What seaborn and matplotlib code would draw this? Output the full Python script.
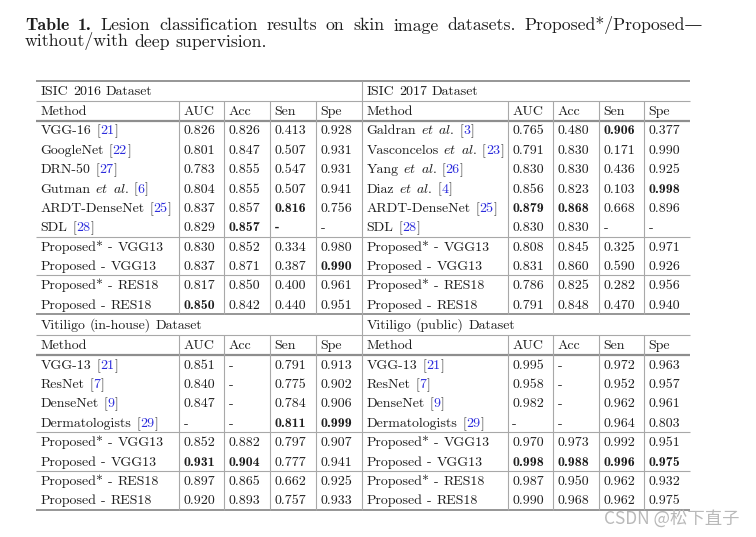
import numpy as np
import pandas as pd
import matplotlib
matplotlib.use("Agg")
import matplotlib.pyplot as plt
import seaborn as sns

# ------------------------------------------------------------------ data
title_bold = ["Table", "1."]
title_line1 = "Lesion classification results on skin image datasets. Proposed*/Proposed\u2014"
title_line2 = "without/with deep supervision."
watermark = "CSDN @松下直子"

columns = ["Method", "AUC", "Acc", "Sen", "Spe"]

isic2016_title = "ISIC 2016 Dataset"
isic2016_methods = ["VGG-16", "GoogleNet", "DRN-50", "Gutman", "ARDT-DenseNet", "SDL",
                    "Proposed* - VGG13", "Proposed - VGG13", "Proposed* - RES18", "Proposed - RES18"]
isic2016_etal = [False, False, False, True, False, False, False, False, False, False]
isic2016_refs = ["21", "22", "27", "6", "25", "28", "", "", "", ""]
isic2016_auc = [0.826, 0.801, 0.783, 0.804, 0.837, 0.829, 0.830, 0.837, 0.817, 0.850]
isic2016_acc = [0.826, 0.847, 0.855, 0.855, 0.857, 0.857, 0.852, 0.871, 0.850, 0.842]
isic2016_sen = [0.413, 0.507, 0.547, 0.507, 0.816, np.nan, 0.334, 0.387, 0.400, 0.440]
isic2016_spe = [0.928, 0.931, 0.931, 0.941, 0.756, np.nan, 0.980, 0.990, 0.961, 0.951]
isic2016_bold = [(4, "Sen"), (5, "Acc"), (5, "Sen"), (7, "Spe"), (9, "AUC")]
isic2016_groups = [6, 2, 2]

isic2017_title = "ISIC 2017 Dataset"
isic2017_methods = ["Galdran", "Vasconcelos", "Yang", "Diaz", "ARDT-DenseNet", "SDL",
                    "Proposed* - VGG13", "Proposed - VGG13", "Proposed* - RES18", "Proposed - RES18"]
isic2017_etal = [True, True, True, True, False, False, False, False, False, False]
isic2017_refs = ["3", "23", "26", "4", "25", "28", "", "", "", ""]
isic2017_auc = [0.765, 0.791, 0.830, 0.856, 0.879, 0.830, 0.808, 0.831, 0.786, 0.791]
isic2017_acc = [0.480, 0.830, 0.830, 0.823, 0.868, 0.830, 0.845, 0.860, 0.825, 0.848]
isic2017_sen = [0.906, 0.171, 0.436, 0.103, 0.668, np.nan, 0.325, 0.590, 0.282, 0.470]
isic2017_spe = [0.377, 0.990, 0.925, 0.998, 0.896, np.nan, 0.971, 0.926, 0.956, 0.940]
isic2017_bold = [(0, "Sen"), (3, "Spe"), (4, "AUC"), (4, "Acc")]
isic2017_groups = [6, 2, 2]

vit_in_title = "Vitiligo (in-house) Dataset"
vit_in_methods = ["VGG-13", "ResNet", "DenseNet", "Dermatologists",
                  "Proposed* - VGG13", "Proposed - VGG13", "Proposed* - RES18", "Proposed - RES18"]
vit_in_etal = [False] * 8
vit_in_refs = ["21", "7", "9", "29", "", "", "", ""]
vit_in_auc = [0.851, 0.840, 0.847, np.nan, 0.852, 0.931, 0.897, 0.920]
vit_in_acc = [np.nan, np.nan, np.nan, np.nan, 0.882, 0.904, 0.865, 0.893]
vit_in_sen = [0.791, 0.775, 0.784, 0.811, 0.797, 0.777, 0.662, 0.757]
vit_in_spe = [0.913, 0.902, 0.906, 0.999, 0.907, 0.941, 0.925, 0.933]
vit_in_bold = [(3, "Sen"), (3, "Spe"), (5, "AUC"), (5, "Acc")]
vit_in_groups = [4, 2, 2]

vit_pub_title = "Vitiligo (public) Dataset"
vit_pub_methods = ["VGG-13", "ResNet", "DenseNet", "Dermatologists",
                   "Proposed* - VGG13", "Proposed - VGG13", "Proposed* - RES18", "Proposed - RES18"]
vit_pub_etal = [False] * 8
vit_pub_refs = ["21", "7", "9", "29", "", "", "", ""]
vit_pub_auc = [0.995, 0.958, 0.982, np.nan, 0.970, 0.998, 0.987, 0.990]
vit_pub_acc = [np.nan, np.nan, np.nan, np.nan, 0.973, 0.988, 0.950, 0.968]
vit_pub_sen = [0.972, 0.952, 0.962, 0.964, 0.992, 0.996, 0.962, 0.962]
vit_pub_spe = [0.963, 0.957, 0.961, 0.803, 0.951, 0.975, 0.932, 0.975]
vit_pub_bold = [(5, "AUC"), (5, "Acc"), (5, "Sen"), (5, "Spe")]
vit_pub_groups = [4, 2, 2]


def make_df(methods, etal, refs, auc, acc, sen, spe):
    return pd.DataFrame({"Method": methods, "etal": etal, "ref": refs,
                         "AUC": auc, "Acc": acc, "Sen": sen, "Spe": spe})


tables = [
    (isic2016_title, make_df(isic2016_methods, isic2016_etal, isic2016_refs, isic2016_auc,
                             isic2016_acc, isic2016_sen, isic2016_spe), isic2016_bold, isic2016_groups),
    (isic2017_title, make_df(isic2017_methods, isic2017_etal, isic2017_refs, isic2017_auc,
                             isic2017_acc, isic2017_sen, isic2017_spe), isic2017_bold, isic2017_groups),
    (vit_in_title, make_df(vit_in_methods, vit_in_etal, vit_in_refs, vit_in_auc,
                           vit_in_acc, vit_in_sen, vit_in_spe), vit_in_bold, vit_in_groups),
    (vit_pub_title, make_df(vit_pub_methods, vit_pub_etal, vit_pub_refs, vit_pub_auc,
                            vit_pub_acc, vit_pub_sen, vit_pub_spe), vit_pub_bold, vit_pub_groups),
]

# ------------------------------------------------------------------ style
sns.set_theme(style="white")
plt.rcParams["mathtext.fontset"] = "cm"
plt.rcParams["font.family"] = ["cmr10", "DejaVu Serif"]
plt.rcParams["axes.unicode_minus"] = False

TXT = "#1e1e1e"
BLUE = "#2b2bdc"
GRID = "#a8a8a8"
GRID_DARK = "#8e8e8e"
TSIZE = 10.0
HSIZE = 12.8
PX = 100 / 72.0

fig = plt.figure(figsize=(7.56, 5.37), dpi=100)
fig.patch.set_facecolor("white")
ax = fig.add_axes([0, 0, 1, 1])
ax.set_xlim(0, 756)
ax.set_ylim(537, 0)
ax.axis("off")
renderer = fig.canvas.get_renderer()

FAM = {"rm": ["cmr10", "DejaVu Serif"], "bf": ["cmb10", "DejaVu Serif"]}


def put(x, y, s, st, size):
    if st == "it":
        t = ax.text(x, y, r"$\mathit{" + s + "}$", fontsize=size, color=TXT,
                    va="baseline", ha="left")
    elif st == "ref":
        t = ax.text(x, y, s, fontsize=size, color=BLUE, family=FAM["rm"],
                    va="baseline", ha="left")
    else:
        t = ax.text(x, y, s, fontsize=size, color=TXT, family=FAM[st],
                    va="baseline", ha="left")
    return t


def width(t):
    return t.get_window_extent(renderer=renderer).width


def draw_runs(x, y, runs, size):
    space = size * PX * 0.30
    for s, st in runs:
        if s == " ":
            x += space
            continue
        t = put(x, y, s, st, size)
        x += width(t) + 0.4
    return x


def words(s, st):
    out = []
    for i, w in enumerate(s.split(" ")):
        if i:
            out.append((" ", None))
        out.append((w, st))
    return out


# ------------------------------------------------------------------ caption
cap_words = [(w, "bf") for w in title_bold] + [(w, "rm") for w in title_line1.split(" ")]
objs = [put(0, 30.5, w, st, HSIZE) for w, st in cap_words]
ws = [width(o) for o in objs]
x_left, x_right = 25.0, 703.0
gap = (x_right - x_left - sum(ws)) / (len(objs) - 1)
x = x_left
for o, w in zip(objs, ws):
    o.set_x(x)
    x += w + gap
draw_runs(x_left, 46.5, words(title_line2, "rm"), HSIZE)

# ------------------------------------------------------------------ table layout
left_edges = [36.0, 179.0, 224.0, 270.0, 316.0, 362.0]
right_edges = [362.0, 507.7, 553.0, 599.0, 644.0, 690.0]
PAD = 4.6
ROW_H = 19.35
BASE = 4.3
section_tops = [80.5, 314.0]
title_h = [20.0, 20.8]
head_h = 20.0


def draw_table(edges, top, th, name, df, bold, groups):
    y_title = top + th / 2
    draw_runs(edges[0] + PAD, y_title + BASE, words(name, "rm"), TSIZE)
    y_head_top = top + th
    ax.hlines(y_head_top, edges[0], edges[-1], color=GRID, lw=0.8)
    y_head = y_head_top + head_h / 2
    for c, col in enumerate(columns):
        draw_runs(edges[c] + PAD, y_head + BASE, [(col, "rm")], TSIZE)
    y = y_head_top + head_h
    ax.hlines(y, edges[0], edges[-1], color=GRID_DARK, lw=1.6)
    bold_set = set(bold)
    r = 0
    for g, n in enumerate(groups):
        for _ in range(n):
            row = df.iloc[r]
            yc = y + ROW_H / 2
            runs = words(row["Method"], "rm")
            if row["etal"]:
                runs += [(" ", None), ("et", "it"), (" ", None), ("al.", "it")]
            if row["ref"]:
                runs += [(" ", None), ("[", "rm"), (row["ref"], "ref"), ("]", "rm")]
            draw_runs(edges[0] + PAD, yc + BASE, runs, TSIZE)
            for c, col in enumerate(columns[1:], start=1):
                v = row[col]
                s = "-" if pd.isna(v) else f"{v:.3f}"
                st = "bf" if (r, col) in bold_set else "rm"
                draw_runs(edges[c] + PAD, yc + BASE, [(s, st)], TSIZE)
            y += ROW_H
            r += 1
        last = g == len(groups) - 1
        ax.hlines(y, edges[0], edges[-1], color=GRID_DARK if last else GRID,
                  lw=1.3 if last else 0.8)
    for xe in edges[1:-1]:
        ax.vlines(xe, y_head_top, y, color=GRID, lw=0.8)
    return y


ax.hlines(section_tops[0], left_edges[0], right_edges[-1], color=GRID_DARK, lw=1.3)
bottoms = []
for k, (name, df, bold, groups) in enumerate(tables):
    sec = k // 2
    edges = left_edges if k % 2 == 0 else right_edges
    bottoms.append(draw_table(edges, section_tops[sec], title_h[sec], name, df, bold, groups))
ax.vlines(left_edges[-1], section_tops[0], bottoms[-1], color=GRID, lw=0.8)

# ------------------------------------------------------------------ watermark
ax.text(740, 519, watermark, fontsize=12.5, color="#b9b9b9", ha="right", va="center",
        family=["Noto Sans CJK SC", "DejaVu Sans"])

fig.savefig("out.png", dpi=100, facecolor="white")
